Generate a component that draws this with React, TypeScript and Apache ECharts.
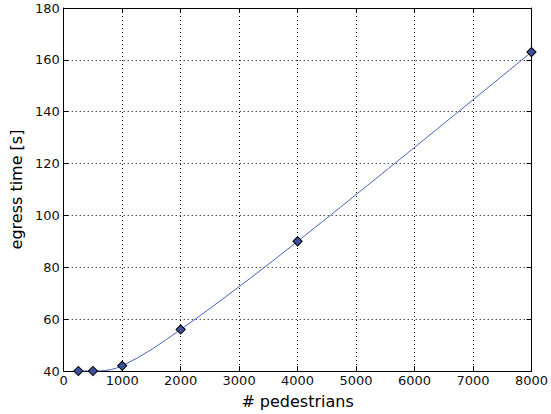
import React, { useEffect, useRef } from "react";
import * as echarts from "echarts";

const pedestrians = [250, 500, 1000, 2000, 4000, 8000];
const egressTime = [40, 40, 42, 56, 90, 163];
const xTicks = [0, 1000, 2000, 3000, 4000, 5000, 6000, 7000, 8000];
const yTicks = [40, 60, 80, 100, 120, 140, 160, 180];

export default function App() {
  const ref = useRef<HTMLDivElement>(null);
  useEffect(() => {
    if (!ref.current) return;
    const chart = echarts.init(ref.current, null, { renderer: "svg" });
    const font = "DejaVu Sans";
    const xBase = {
      type: "value",
      min: xTicks[0],
      max: xTicks[xTicks.length - 1],
      interval: 1000,
      axisLine: { show: true, onZero: false, lineStyle: { color: "#000", width: 1 } },
      axisTick: { show: true, inside: true, length: 5, lineStyle: { color: "#000" } },
      splitLine: { show: false },
    };
    const yBase = {
      type: "value",
      min: yTicks[0],
      max: yTicks[yTicks.length - 1],
      interval: 20,
      axisLine: { show: true, onZero: false, lineStyle: { color: "#000", width: 1 } },
      axisTick: { show: true, inside: true, length: 5, lineStyle: { color: "#000" } },
      splitLine: { show: false },
    };
    chart.setOption({
      animation: false,
      textStyle: { fontFamily: font },
      grid: { left: 60, right: 17, top: 8, bottom: 39, containLabel: false },
      xAxis: [
        {
          ...xBase,
          position: "bottom",
          name: "# pedestrians",
          nameLocation: "middle",
          nameGap: 22,
          nameTextStyle: { fontSize: 16, color: "#000", fontFamily: font },
          axisLabel: {
            fontSize: 13,
            color: "#111",
            margin: 3,
            fontFamily: font,
            formatter: (v: number) => String(v),
          },
          splitLine: { show: true, lineStyle: { color: "#000", type: [1, 3], width: 1 } },
        },
        { ...xBase, position: "top", axisLabel: { show: false } },
      ],
      yAxis: [
        {
          ...yBase,
          position: "left",
          name: "egress time [s]",
          nameLocation: "middle",
          nameGap: 35,
          nameTextStyle: { fontSize: 16, color: "#000", fontFamily: font },
          axisLabel: {
            fontSize: 13,
            color: "#111",
            margin: 4,
            fontFamily: font,
            formatter: (v: number) => String(v),
          },
          splitLine: { show: true, lineStyle: { color: "#000", type: [1, 3], width: 1 } },
        },
        { ...yBase, position: "right", axisLabel: { show: false } },
      ],
      series: [
        {
          type: "line",
          data: pedestrians.map((x, i) => [x, egressTime[i]]),
          smooth: 0.35,
          clip: true,
          lineStyle: { color: "#4563bd", width: 1 },
          symbol: "rect",
          symbolRotate: 45,
          symbolSize: 6.5,
          itemStyle: { color: "#3b5199", borderColor: "#000", borderWidth: 1 },
          z: 5,
        },
      ],
    });
    return () => chart.dispose();
  }, []);
  return <div ref={ref} style={{ width: 551, height: 414, position: "absolute", left: 0, top: 0 }} />;
}
